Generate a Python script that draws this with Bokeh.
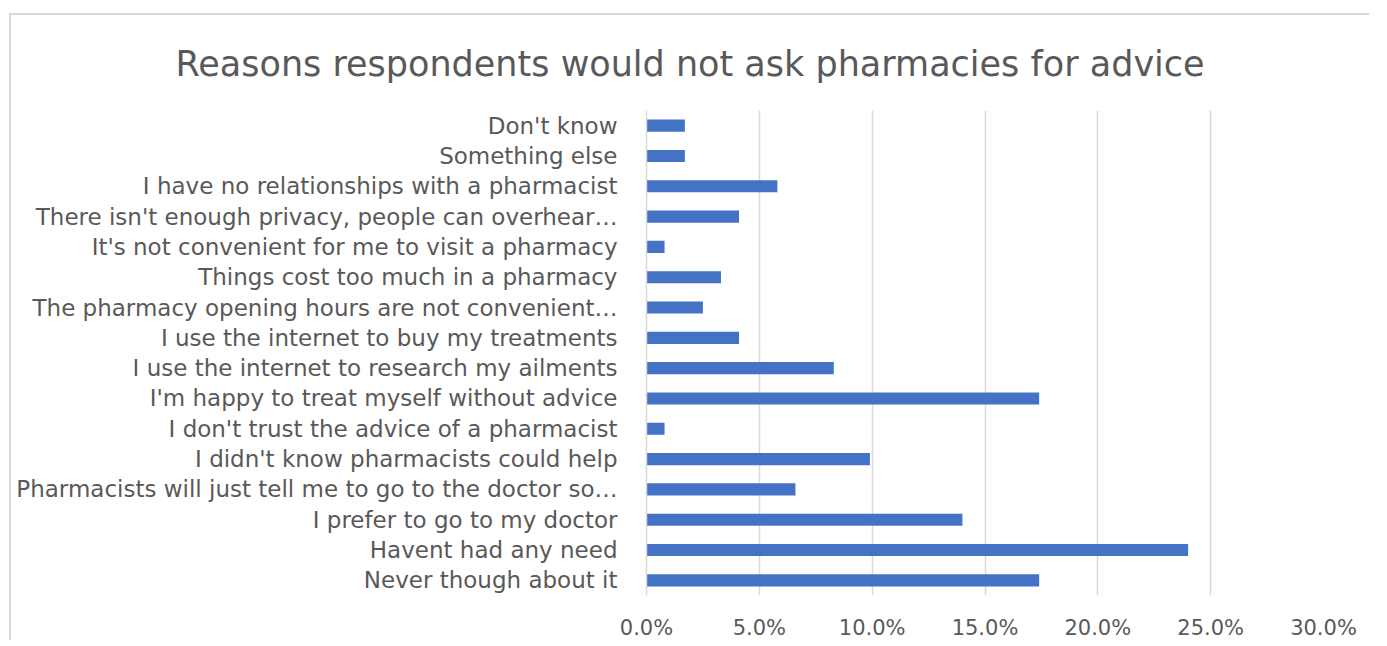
from bokeh.plotting import figure
from bokeh.models import FactorRange, Range1d, NumeralTickFormatter, FixedTicker, Title
from bokeh.embed import file_html
from bokeh.resources import INLINE

categories = [
    "Never though about it",
    "Havent had any need",
    "I prefer to go to my doctor",
    "Pharmacists will just tell me to go to the doctor so\u2026",
    "I didn't know pharmacists could help",
    "I don't trust the advice of a pharmacist",
    "I'm happy to treat myself without advice",
    "I use the internet to research my ailments",
    "I use the internet to buy my treatments",
    "The pharmacy opening hours are not convenient\u2026",
    "Things cost too much in a pharmacy",
    "It's not convenient for me to visit a pharmacy",
    "There isn't enough privacy, people can overhear\u2026",
    "I have no relationships with a pharmacist",
    "Something else",
    "Don't know",
]
shares = [0.174, 0.240, 0.140, 0.066, 0.099, 0.008, 0.174, 0.083,
          0.041, 0.025, 0.033, 0.008, 0.041, 0.058, 0.017, 0.017]
x_ticks = [0.0, 0.05, 0.10, 0.15, 0.20, 0.25, 0.30]
title_text = "Reasons respondents would not ask pharmacies for advice"

FONT = "DejaVu Sans"
GRAY = "#595959"

p = figure(
    width=1360, height=627,
    y_range=FactorRange(factors=categories, range_padding=0),
    x_range=Range1d(0, 0.30),
    output_backend="svg", toolbar_location=None,
    min_border_left=635, min_border_right=48, min_border_bottom=33, min_border_top=95,
)
p.margin = (13, 0, 0, 9)
p.styles = {"border-top": "2px solid #d9d9d9", "border-left": "2px solid #d9d9d9"}

p.title = Title(text=title_text, align="left", offset=-471, vertical_align="top",
                text_font=FONT, text_font_size="35px", text_color=GRAY,
                text_font_style="normal", standoff=50)

p.hbar(y=categories, right=shares, left=0, height=0.4, color="#4472C4", line_color=None)

p.outline_line_color = None
p.background_fill_color = "white"
p.border_fill_color = "white"

p.xgrid.ticker = FixedTicker(ticks=x_ticks)
p.xgrid.grid_line_color = "#d9d9d9"
p.xgrid.grid_line_width = 1.5
p.ygrid.grid_line_color = None

p.xaxis.ticker = FixedTicker(ticks=x_ticks)
p.xaxis.formatter = NumeralTickFormatter(format="0.0%")
p.xaxis.axis_line_color = None
p.xaxis.major_tick_line_color = None
p.xaxis.minor_tick_line_color = None
p.xaxis.major_label_standoff = 14
p.xaxis.major_label_text_font = FONT
p.xaxis.major_label_text_font_size = "21px"
p.xaxis.major_label_text_color = GRAY

p.yaxis.axis_line_color = "#d9d9d9"
p.yaxis.axis_line_width = 1.5
p.yaxis.major_tick_line_color = None
p.yaxis.minor_tick_line_color = None
p.yaxis.major_label_standoff = 23
p.yaxis.major_label_text_font = FONT
p.yaxis.major_label_text_font_size = "23px"
p.yaxis.major_label_text_color = GRAY

open("out.html", "w").write(file_html(p, INLINE))
